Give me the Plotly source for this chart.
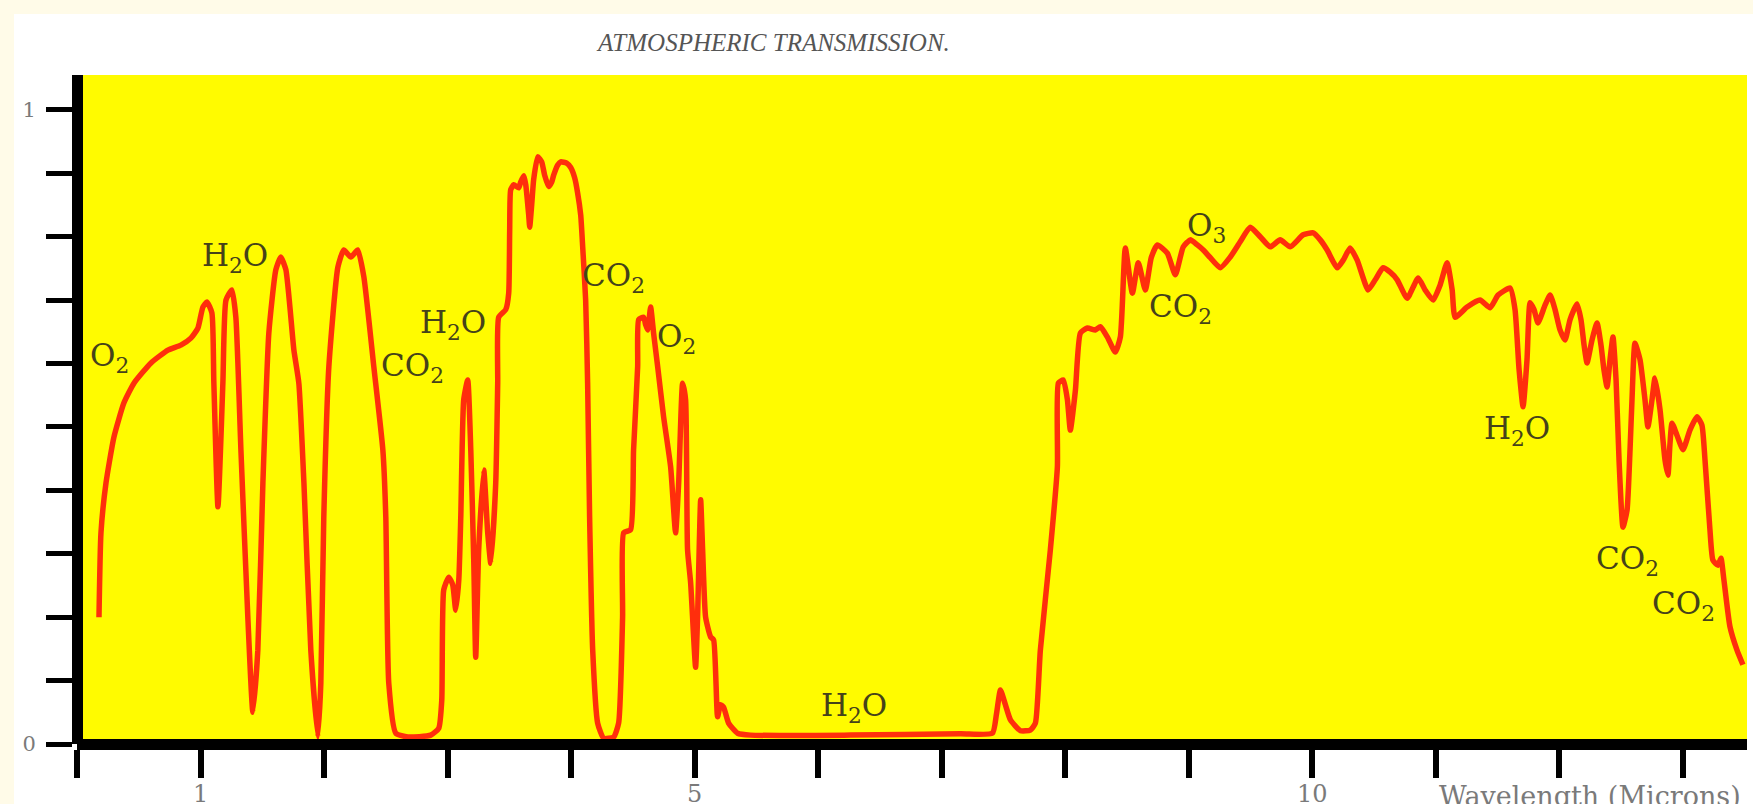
import plotly.graph_objects as go

# ---------------- data ----------------
wavelength_um = [
    0.178, 0.194, 0.235, 0.299, 0.380, 0.461, 0.599, 0.736, 0.841, 0.922,
    0.979, 1.019, 1.052, 1.092, 1.108, 1.141, 1.181, 1.206, 1.254, 1.286,
    1.327, 1.383, 1.424, 1.464, 1.505, 1.553, 1.610, 1.650, 1.691, 1.756,
    1.796, 1.837, 1.893, 1.950, 1.974, 1.998, 2.039, 2.112, 2.160, 2.217,
    2.273, 2.322, 2.403, 2.476, 2.500, 2.524, 2.581, 2.678, 2.864, 2.929,
    2.953, 2.969, 3.010, 3.042, 3.066, 3.091, 3.107, 3.131, 3.163, 3.188,
    3.212, 3.228, 3.252, 3.293, 3.325, 3.350, 3.390, 3.406, 3.414, 3.471,
    3.495, 3.503, 3.511, 3.536, 3.576, 3.592, 3.617, 3.633, 3.657, 3.665,
    3.681, 3.697, 3.730, 3.762, 3.786, 3.819, 3.843, 3.859, 3.892, 3.916,
    3.964, 3.997, 4.029, 4.053, 4.078, 4.094, 4.118, 4.134, 4.150, 4.175,
    4.215, 4.264, 4.345, 4.385, 4.417, 4.426, 4.482, 4.506, 4.539, 4.547,
    4.587, 4.604, 4.620, 4.644, 4.668, 4.701, 4.749, 4.806, 4.846, 4.871,
    4.903, 4.927, 4.943, 4.968, 5.008, 5.024, 5.049, 5.065, 5.089, 5.129,
    5.154, 5.186, 5.210, 5.235, 5.275, 5.348, 5.453, 6.262, 7.152, 7.411,
    7.443, 7.476, 7.516, 7.557, 7.638, 7.718, 7.759, 7.799, 7.880, 7.937,
    7.945, 7.985, 8.018, 8.042, 8.083, 8.123, 8.180, 8.244, 8.285, 8.341,
    8.406, 8.447, 8.487, 8.544, 8.592, 8.649, 8.697, 8.746, 8.827, 8.892,
    8.956, 9.013, 9.070, 9.118, 9.175, 9.256, 9.337, 9.417, 9.498, 9.579,
    9.660, 9.741, 9.822, 9.927, 10.008, 10.065, 10.121, 10.202, 10.251, 10.307,
    10.364, 10.453, 10.510, 10.574, 10.631, 10.688, 10.769, 10.858, 10.914, 10.979,
    11.036, 11.092, 11.133, 11.157, 11.254, 11.359, 11.440, 11.505, 11.602, 11.642,
    11.675, 11.707, 11.739, 11.764, 11.796, 11.828, 11.885, 11.926, 11.966, 12.006,
    12.047, 12.087, 12.144, 12.176, 12.201, 12.225, 12.265, 12.306, 12.338, 12.362,
    12.387, 12.411, 12.435, 12.460, 12.484, 12.516, 12.549, 12.573, 12.589, 12.613,
    12.654, 12.694, 12.718, 12.751, 12.775, 12.816, 12.856, 12.880, 12.896, 12.913,
    12.953, 13.002, 13.058, 13.115, 13.155, 13.180, 13.220, 13.244, 13.285, 13.309,
    13.333, 13.382, 13.439, 13.487,
]
transmission = [
    0.200, 0.333, 0.412, 0.484, 0.538, 0.569, 0.601, 0.621, 0.629, 0.640,
    0.656, 0.689, 0.697, 0.680, 0.569, 0.374, 0.569, 0.700, 0.716, 0.673,
    0.464, 0.200, 0.050, 0.148, 0.412, 0.648, 0.748, 0.768, 0.748, 0.621,
    0.569, 0.412, 0.148, 0.011, 0.096, 0.358, 0.595, 0.752, 0.779, 0.768,
    0.779, 0.737, 0.595, 0.464, 0.358, 0.096, 0.017, 0.011, 0.014, 0.025,
    0.069, 0.243, 0.263, 0.251, 0.211, 0.259, 0.358, 0.543, 0.574, 0.464,
    0.290, 0.137, 0.306, 0.432, 0.333, 0.285, 0.412, 0.569, 0.673, 0.685,
    0.711, 0.811, 0.874, 0.882, 0.877, 0.886, 0.896, 0.882, 0.834, 0.815,
    0.850, 0.890, 0.926, 0.918, 0.897, 0.879, 0.886, 0.897, 0.913, 0.918,
    0.916, 0.909, 0.893, 0.869, 0.834, 0.784, 0.700, 0.569, 0.358, 0.148,
    0.033, 0.009, 0.011, 0.033, 0.200, 0.333, 0.338, 0.464, 0.595, 0.669,
    0.673, 0.661, 0.653, 0.689, 0.648, 0.595, 0.516, 0.437, 0.333, 0.412,
    0.569, 0.543, 0.306, 0.254, 0.121, 0.200, 0.385, 0.306, 0.200, 0.169,
    0.164, 0.043, 0.062, 0.058, 0.033, 0.017, 0.014, 0.014, 0.016, 0.017,
    0.046, 0.085, 0.062, 0.038, 0.021, 0.022, 0.033, 0.148, 0.306, 0.437,
    0.569, 0.574, 0.543, 0.495, 0.558, 0.648, 0.656, 0.653, 0.658, 0.642,
    0.618, 0.642, 0.782, 0.711, 0.759, 0.716, 0.767, 0.787, 0.774, 0.740,
    0.784, 0.795, 0.787, 0.779, 0.767, 0.751, 0.768, 0.792, 0.815, 0.800,
    0.784, 0.795, 0.784, 0.803, 0.806, 0.795, 0.779, 0.751, 0.763, 0.782,
    0.763, 0.716, 0.732, 0.751, 0.744, 0.732, 0.703, 0.735, 0.716, 0.700,
    0.724, 0.759, 0.716, 0.673, 0.689, 0.700, 0.688, 0.708, 0.719, 0.685,
    0.590, 0.532, 0.606, 0.696, 0.685, 0.664, 0.692, 0.708, 0.685, 0.653,
    0.637, 0.669, 0.694, 0.669, 0.629, 0.601, 0.637, 0.664, 0.629, 0.590,
    0.563, 0.606, 0.642, 0.574, 0.448, 0.342, 0.369, 0.464, 0.543, 0.632,
    0.606, 0.543, 0.500, 0.543, 0.577, 0.527, 0.448, 0.424, 0.472, 0.506,
    0.487, 0.464, 0.495, 0.516, 0.503, 0.448, 0.338, 0.290, 0.282, 0.293,
    0.259, 0.185, 0.148, 0.125,
]
assert len(wavelength_um) == len(transmission)

# absorber labels
label_text = ["O<sub>2</sub>", "H<sub>2</sub>O", "CO<sub>2</sub>", "H<sub>2</sub>O",
              "CO<sub>2</sub>", "O<sub>2</sub>", "H<sub>2</sub>O", "O<sub>3</sub>",
              "CO<sub>2</sub>", "H<sub>2</sub>O", "CO<sub>2</sub>", "CO<sub>2</sub>"]
label_x = [0.264, 1.277, 2.713, 3.045, 4.343, 4.854, 6.289, 9.144, 8.934, 11.658, 12.55, 13.005]
label_y = [0.609, 0.767, 0.593, 0.661, 0.735, 0.640, 0.057, 0.815, 0.686, 0.495, 0.290, 0.219]

x_tick_values = [0, 1, 2, 3, 4, 5, 6, 7, 8, 9, 10, 11, 12, 13]
x_tick_labels = ["", "1", "", "", "", "5", "", "", "", "", "10", "", "", ""]
y_tick_values = [0, 0.1, 0.2, 0.3, 0.4, 0.5, 0.6, 0.7, 0.8, 0.9, 1.0]
y_tick_labels = ["0", "", "", "", "", "", "", "", "", "", "1"]

TITLE = "ATMOSPHERIC TRANSMISSION."
X_TITLE = "Wavelength (Microns)"

# ---------------- styling ----------------
YELLOW = "#fffb00"
CURVE = "#ff2e0c"
LABEL = "#45421a"
GRAY = "#7a7a7a"
CREAM = "#fffbe8"

W, H = 1753, 804
ML, MR, MT, MB = 77, 6, 75, 60
PW, PH = W - ML - MR, H - MT - MB


def px_to_paper_x(px):
    return (px - ML) / PW


def px_to_paper_y(py):
    return (H - MB - py) / PH


fig = go.Figure()
fig.add_trace(go.Scatter(
    x=wavelength_um, y=transmission, mode="lines",
    line=dict(color=CURVE, width=5.5, shape="spline", smoothing=0.5),
    hoverinfo="skip", showlegend=False,
))

for t, x, y in zip(label_text, label_x, label_y):
    fig.add_annotation(x=x, y=y, text=t, showarrow=False, xanchor="center", yanchor="middle",
                       font=dict(family="DejaVu Serif", size=31, color=LABEL))

fig.add_annotation(xref="paper", yref="paper", x=px_to_paper_x(773), y=px_to_paper_y(42),
                   text="<i>" + TITLE + "</i>", showarrow=False, xanchor="center", yanchor="middle",
                   font=dict(family="Liberation Serif", size=25, color="#555555"))
fig.add_annotation(xref="paper", yref="paper", x=px_to_paper_x(1743), y=px_to_paper_y(779),
                   text=X_TITLE, showarrow=False, xanchor="right", yanchor="top",
                   font=dict(family="DejaVu Serif", size=27, color=GRAY))

# faint cream border of the scanned page
fig.add_shape(type="rect", xref="paper", yref="paper", layer="below",
              x0=px_to_paper_x(0), x1=px_to_paper_x(14), y0=px_to_paper_y(804), y1=px_to_paper_y(0),
              fillcolor=CREAM, line=dict(width=0))
fig.add_shape(type="rect", xref="paper", yref="paper", layer="below",
              x0=px_to_paper_x(0), x1=px_to_paper_x(1753), y0=px_to_paper_y(14), y1=px_to_paper_y(0),
              fillcolor=CREAM, line=dict(width=0))

fig.update_layout(
    width=W, height=H,
    margin=dict(l=ML, r=MR, t=MT, b=MB, pad=0, autoexpand=False),
    paper_bgcolor="white", plot_bgcolor=YELLOW,
    showlegend=False,
    xaxis=dict(range=[0, 13.52], anchor="free", position=0, automargin=False,
               showline=True, linecolor="black", linewidth=11,
               ticks="outside", ticklen=28, tickwidth=6, tickcolor="black",
               tickvals=x_tick_values, ticktext=x_tick_labels, ticklabelstandoff=-5,
               tickfont=dict(family="DejaVu Serif", size=24, color=GRAY),
               showgrid=False, zeroline=False, fixedrange=True),
    yaxis=dict(range=[0, 1.055], anchor="free", position=0, automargin=False,
               showline=True, linecolor="black", linewidth=11,
               ticks="outside", ticklen=26, tickwidth=5, tickcolor="black",
               tickvals=y_tick_values, ticktext=y_tick_labels, ticklabelstandoff=6,
               tickfont=dict(family="DejaVu Serif", size=21, color=GRAY),
               showgrid=False, zeroline=False, fixedrange=True),
)

fig.write_html("out.html")
